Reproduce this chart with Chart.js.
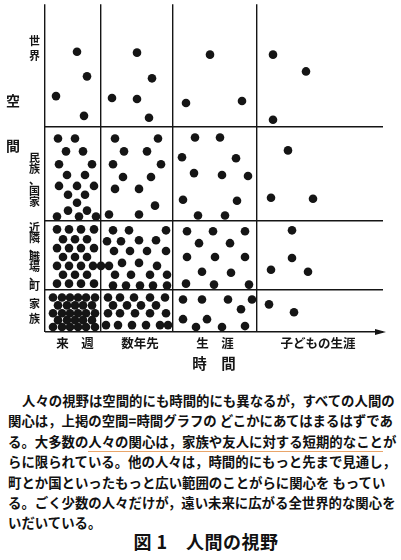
<!DOCTYPE html>
<html lang="ja">
<head>
<meta charset="utf-8">
<script src="https://cdn.jsdelivr.net/npm/chart.js@4"></script>
<style>
  html, body { margin: 0; padding: 0; background: #fff; }
  body { width: 401px; height: 560px; position: relative; overflow: hidden;
         font-family: "Noto Sans CJK JP", sans-serif; color: #111; }
  #wrap { position: absolute; left: 0; top: 0; width: 401px; height: 372px; }
  #text { position: absolute; left: 8px; top: 390px; width: 376px;
          font-size: 13.4px; font-weight: bold; line-height: 20.4px; }
  #text div { text-align: justify; text-align-last: justify; text-justify: inter-character; white-space: nowrap; }
  #text div.first { text-indent: 14px; }
  #text div.last { text-align-last: left; }
  .mark { border-bottom: 1.5px solid #e9a56a; }
  #caption { position: absolute; left: 0; width: 412px; top: 528px; text-align: center;
             font-size: 18px; font-weight: bold; letter-spacing: 0.5px; }
</style>
</head>
<body>
<div id="wrap"><canvas id="perspective"></canvas></div>
<div id="text">
  <div class="first">人々の視野は空間的にも時間的にも異なるが，すべての人間の</div>
  <div>関心は，上掲の空間=時間グラフの どこかにあてはまるはずであ</div>
  <div>る。大多数の<span class="mark">人々の関心は，家族や友人に対する短期的なこと</span>が</div>
  <div>らに限られている。他の人々は，時間的にもっと先まで見通し，</div>
  <div>町とか国といったもっと広い範囲のことがらに関心を もってい</div>
  <div>る。ごく少数の人々だけが，遠い未来に広がる全世界的な関心を</div>
  <div class="last">いだいている。</div>
</div>
<div id="caption">図 1　人間の視野</div>
<script>
// time axis (horizontal) and space axis (vertical)
var timeLabels = ['来　週', '数年先', '生　涯', '子どもの生涯'];
var timeLabelAt = [30, 95, 170, 273];
var timeBounds = [0, 56, 128, 212];
var timeMax = 338;

var spaceLabels = ['家族', '近隣、職場、町', '民族、国家', '世界'];
var spaceLabelAt = [21, 76, 154, 287];
var spaceLineH = [15, 9.6, 11, 15];
var spaceBounds = [0, 43, 113, 208];
var spaceMax = 332;

var axisWords = ['間', '空'];
var axisWordAt = [189, 234];

// dots, [time, space]
var worldDots = [
  [32, 284], [42, 259], [11, 239], [39, 219],
  [92, 283], [107, 257], [67, 237], [92, 236], [104, 217],
  [165, 281], [141, 232], [197, 234],
  [228, 281], [261, 264], [228, 215]
];
var nationDots = [
  [13, 196], [30, 196], [21, 183], [38, 183], [14, 170], [47, 170], [22, 159], [40, 159],
  [14, 148], [32, 148], [49, 148], [23, 139], [40, 139], [32, 131], [23, 123], [42, 123],
  [12, 117], [34, 117], [51, 117],
  [70, 196], [113, 196], [79, 183], [102, 183], [68, 170], [116, 170], [78, 157], [106, 157],
  [70, 145], [94, 145], [110, 128], [64, 119], [94, 119],
  [150, 197], [175, 197], [137, 177], [191, 176], [149, 161], [177, 159], [203, 158],
  [138, 134], [192, 133], [153, 118], [180, 118],
  [243, 184], [226, 136], [268, 135]
];
var localDots = [
  [12, 104], [24, 104], [36, 104], [49, 104],
  [18, 94], [30, 94], [42, 94],
  [12, 85], [24, 85], [36, 85], [49, 85],
  [18, 76], [30, 76], [42, 76],
  [12, 67], [24, 67], [36, 67], [48, 67], [56, 67],
  [18, 58], [30, 58], [42, 58],
  [12, 49], [24, 49], [36, 49], [49, 49],
  [68, 103], [84, 103], [121, 103],
  [62, 92], [76, 92], [94, 93], [111, 93],
  [69, 82], [85, 82], [102, 82], [121, 82],
  [64, 67], [77, 70], [94, 70], [112, 67],
  [70, 58], [86, 58], [105, 58], [122, 58],
  [68, 47], [81, 47], [95, 47], [108, 47], [122, 47],
  [142, 102], [168, 102], [200, 102], [154, 90], [185, 90],
  [142, 76], [170, 76], [200, 76], [157, 61], [186, 60],
  [141, 49], [169, 48], [204, 48],
  [247, 103], [247, 75], [226, 63], [263, 61]
];
var familyDots = [
  [8, 35], [17, 35], [25, 35], [33, 35], [41, 35], [50, 35],
  [13, 27], [22, 27], [30, 27], [38, 27], [47, 27],
  [8, 19], [17, 19], [25, 19], [33, 19], [41, 19], [50, 19],
  [13, 12], [22, 12], [30, 12], [38, 12], [47, 12],
  [8, 5], [17, 5], [25, 5], [33, 5], [41, 5], [50, 5],
  [63, 35], [75, 35], [89, 35], [105, 35], [120, 35],
  [68, 27], [82, 27], [96, 27], [111, 27],
  [63, 19], [75, 19], [90, 19], [105, 19], [121, 19],
  [61, 7], [73, 7], [87, 7], [101, 7], [115, 7], [123, 7],
  [138, 33], [157, 33], [183, 33], [207, 33], [196, 23],
  [138, 13], [162, 13], [151, 5], [177, 5], [200, 6],
  [224, 28], [249, 20]
];

var ink = '#151515';
var font = '"Noto Sans CJK JP", sans-serif';

function toPoints(list) {
  return list.map(p => ({ x: p[0], y: p[1] }));
}

// no edge padding for label axes, so the plot fills its box
function noPad(s) {
  s.paddingTop = 0; s.paddingBottom = 0; s.paddingLeft = 0; s.paddingRight = 0;
}

// arrow head at the right end of the time axis
var arrowPlugin = {
  id: 'arrow',
  afterDraw: function(chart) {
    var a = chart.chartArea, ctx = chart.ctx;
    ctx.save();
    ctx.fillStyle = ink;
    ctx.beginPath();
    ctx.moveTo(a.right + 3, a.bottom);
    ctx.lineTo(a.right - 8, a.bottom - 3);
    ctx.lineTo(a.right - 8, a.bottom + 3);
    ctx.closePath();
    ctx.fill();
    ctx.restore();
  }
};

var dotStyle = { pointRadius: 4.3, pointBackgroundColor: ink, pointBorderWidth: 0, pointHoverRadius: 4.3 };

new Chart(document.getElementById('perspective').getContext('2d'), {
  type: 'scatter',
  data: {
    datasets: [
      Object.assign({ label: '世界', data: toPoints(worldDots) }, dotStyle),
      Object.assign({ label: '民族、国家', data: toPoints(nationDots) }, dotStyle),
      Object.assign({ label: '近隣、職場、町', data: toPoints(localDots) }, dotStyle),
      Object.assign({ label: '家族', data: toPoints(familyDots) }, dotStyle)
    ]
  },
  options: {
    responsive: true,
    maintainAspectRatio: false,
    animation: false,
    clip: false,
    layout: { padding: { top: 0, right: 18, bottom: 0, left: 0 } },
    plugins: { legend: { display: false }, tooltip: { enabled: false } },
    scales: {
      x: {
        type: 'linear', position: 'bottom', min: 0, max: timeMax,
        afterBuildTicks: s => { s.ticks = timeBounds.map(v => ({ value: v })); },
        afterFit: s => { s.height = 0; noPad(s); },
        grid: { color: ink, lineWidth: 1.4, drawTicks: false },
        border: { display: false },
        ticks: { display: false }
      },
      y: {
        type: 'linear', position: 'left', min: 0, max: spaceMax,
        afterBuildTicks: s => { s.ticks = spaceBounds.map(v => ({ value: v })); },
        afterFit: s => { s.width = 0; noPad(s); },
        grid: { color: ink, lineWidth: 1.4, drawTicks: false },
        border: { display: false },
        ticks: { display: false }
      },
      xLab: {
        type: 'linear', position: 'bottom', min: 0, max: timeMax, weight: 1,
        afterBuildTicks: s => { s.ticks = timeLabelAt.map(v => ({ value: v })); },
        afterFit: s => { s.height = 40; noPad(s); },
        grid: { display: false, drawTicks: false },
        border: { display: false },
        ticks: {
          autoSkip: false, maxRotation: 0, padding: 4, color: ink,
          font: { family: font, size: 12.5, weight: 'bold' },
          callback: (v, i) => timeLabels[i]
        },
        title: {
          display: true, text: '時　間', color: ink, padding: { top: 1, bottom: 0 },
          font: { family: font, size: 14.5, weight: 'bold' }
        }
      },
      yLab: {
        type: 'linear', position: 'left', min: 0, max: spaceMax, weight: 1,
        afterBuildTicks: s => { s.ticks = spaceLabelAt.map(v => ({ value: v })); },
        afterFit: s => { s.width = 20; noPad(s); },
        grid: { display: false, drawTicks: false },
        border: { display: false },
        ticks: {
          autoSkip: false, crossAlign: 'center', padding: 5, color: ink,
          font: c => ({ family: font, size: 11, weight: 'bold', lineHeight: spaceLineH[c.index] + 'px' }),
          callback: (v, i) => spaceLabels[i].split('')
        }
      },
      ySpace: {
        type: 'linear', position: 'left', min: 0, max: spaceMax, weight: 2,
        afterBuildTicks: s => { s.ticks = axisWordAt.map(v => ({ value: v })); },
        afterFit: s => { s.width = 25; noPad(s); },
        grid: { display: false, drawTicks: false },
        border: { display: false },
        ticks: {
          autoSkip: false, crossAlign: 'center', padding: 5, color: ink,
          font: { family: font, size: 14, weight: 'bold' },
          callback: (v, i) => axisWords[i]
        }
      }
    }
  },
  plugins: [arrowPlugin]
});
</script>
</body>
</html>
